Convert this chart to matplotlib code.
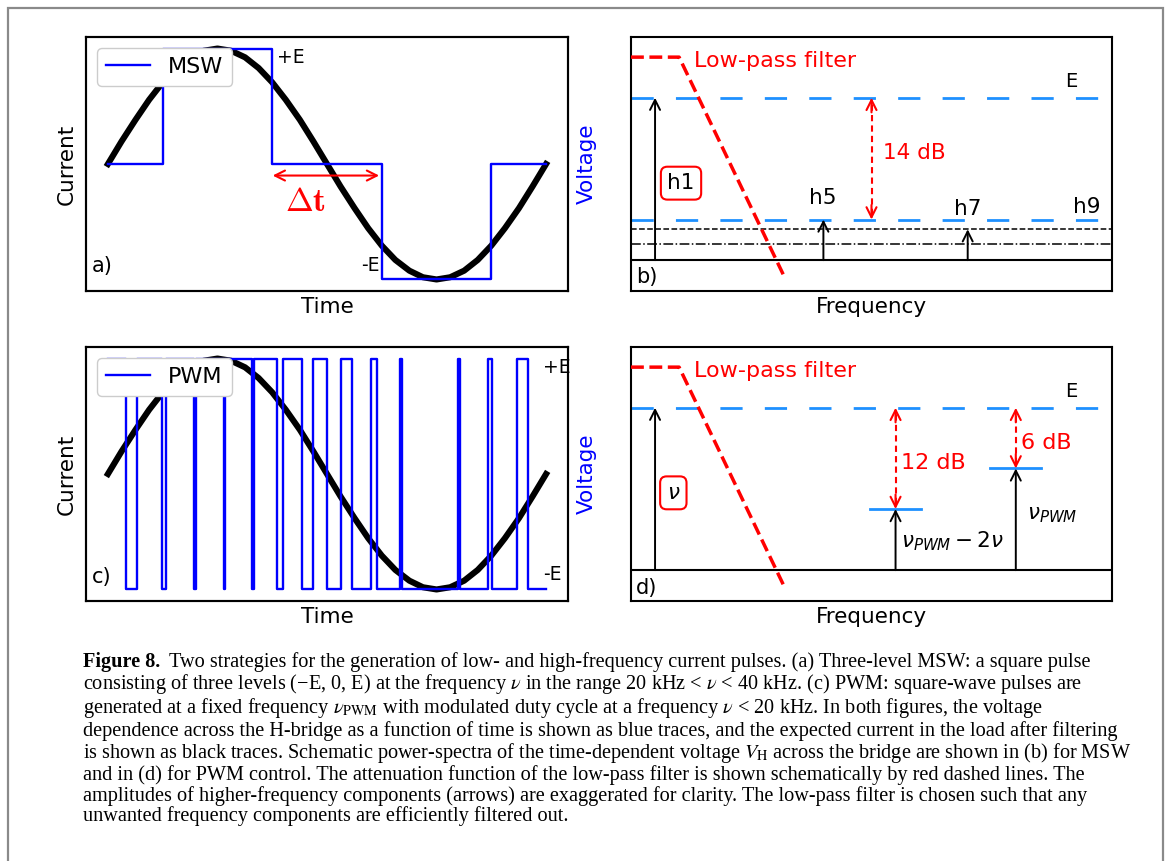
import matplotlib
matplotlib.use('Agg')
import matplotlib.pyplot as plt
from matplotlib.patches import Rectangle

plt.rcParams['font.family'] = ['DejaVu Sans']
plt.rcParams['axes.linewidth'] = 1.5

# ---------------- data ----------------
# load current (black traces), one period, normalised time
current_t = [0.000, 0.031, 0.063, 0.094, 0.125, 0.156, 0.188, 0.219, 0.250,
             0.281, 0.313, 0.344, 0.375, 0.406, 0.438, 0.469, 0.500,
             0.531, 0.563, 0.594, 0.625, 0.656, 0.688, 0.719, 0.750,
             0.781, 0.813, 0.844, 0.875, 0.906, 0.938, 0.969, 1.000]
current_i = [0.000, 0.195, 0.383, 0.556, 0.707, 0.831, 0.924, 0.981, 1.000,
             0.981, 0.924, 0.831, 0.707, 0.556, 0.383, 0.195, 0.000,
             -0.195, -0.383, -0.556, -0.707, -0.831, -0.924, -0.981, -1.000,
             -0.981, -0.924, -0.831, -0.707, -0.556, -0.383, -0.195, 0.000]

# three-level MSW voltage (panel a)
msw_t = [0.000, 0.125, 0.375, 0.625, 0.875, 1.000]
msw_v = [0, 1, 0, -1, 0, 0]

# PWM voltage (panel c): rising and falling edge times of the pulses
pwm_rise = [0.000, 0.067, 0.133, 0.200, 0.267, 0.333, 0.400, 0.467,
            0.533, 0.600, 0.667, 0.800, 0.867, 0.933]
pwm_fall = [0.042, 0.123, 0.197, 0.265, 0.329, 0.387, 0.444, 0.500,
            0.556, 0.614, 0.671, 0.804, 0.877, 0.959]

# low-pass filter (schematic attenuation)
filter_f = [0.00, 0.10, 0.32]
filter_gain = [1.25, 1.25, -0.11]

# MSW spectrum (panel b)
msw_harm_labels = ['h1', 'h5', 'h7', 'h9']
msw_harm_f = [0.05, 0.40, 0.70, 0.95]
msw_harm_amp = [1.00, 0.25, 0.19, 0.10]
msw_db = '14 dB'

# PWM spectrum (panel d)
pwm_comp_labels = [r'$\nu$', r'$\nu_{PWM}-2\nu$', r'$\nu_{PWM}$']
pwm_comp_f = [0.05, 0.55, 0.80]
pwm_comp_amp = [1.00, 0.376, 0.626]
pwm_db = ['12 dB', '6 dB']

caption_lines = [
    "Two strategies for the generation of low- and high-frequency current pulses. (a) Three-level MSW: a square pulse",
    "consisting of three levels (\u2212E, 0, E) at the frequency $\\nu$ in the range 20 kHz < $\\nu$ < 40 kHz. (c) PWM: square-wave pulses are",
    "generated at a fixed frequency $\\nu_{\\rm PWM}$ with modulated duty cycle at a frequency $\\nu$ < 20 kHz. In both figures, the voltage",
    "dependence across the H-bridge as a function of time is shown as blue traces, and the expected current in the load after filtering",
    "is shown as black traces. Schematic power-spectra of the time-dependent voltage $V_{\\rm H}$ across the bridge are shown in (b) for MSW",
    "and in (d) for PWM control. The attenuation function of the low-pass filter is shown schematically by red dashed lines. The",
    "amplitudes of higher-frequency components (arrows) are exaggerated for clarity. The low-pass filter is chosen such that any",
    "unwanted frequency components are efficiently filtered out.",
]

# ---------------- figure ----------------
W, H = 1167, 861
fig = plt.figure(figsize=(W / 100, H / 100), dpi=100)


def px_axes(x0, y0, x1, y1):
    return fig.add_axes([x0 / W, 1 - y1 / H, (x1 - x0) / W, (y1 - y0) / H])


ax_a = px_axes(86, 37, 568, 291)
ax_b = px_axes(631, 37, 1112, 291)
ax_c = px_axes(86, 347, 568, 601)
ax_d = px_axes(631, 347, 1112, 601)

fig.patches.append(Rectangle((8 / W, -0.05), (1163 - 8) / W, 1 - 8 / H + 0.05,
                             transform=fig.transFigure, fill=False,
                             edgecolor='#8a8a8a', lw=1.6))

FS = 15.5


def time_panel(ax, tv, vv, name):
    ax.plot(current_t, current_i, color='black', lw=4.4, zorder=2)
    ax.set_xlim(-0.05, 1.05)
    ax.set_ylim(-1.1, 1.1)
    ax.set_xticks([])
    ax.set_yticks([])
    ax.set_ylabel('Current', fontsize=FS, labelpad=7)
    ax.set_xlabel('Time', fontsize=FS, labelpad=4)
    ax2 = ax.twinx()
    ax2.step(tv, vv, where='post', color='blue', lw=1.7, label=name)
    ax2.set_xlim(-0.05, 1.05)
    ax2.set_ylim(-1.1, 1.1)
    ax2.set_yticks([])
    ax2.set_ylabel('Voltage', color='blue', fontsize=FS, labelpad=6)
    ax2.legend(loc='upper left', fontsize=16, framealpha=1)
    return ax2


# panel a
a2 = time_panel(ax_a, msw_t, msw_v, 'MSW')
ax_a.text(0.386, 0.872, '+E', fontsize=13.5, va='baseline')
ax_a.text(0.619, -0.93, '-E', fontsize=13.5, va='baseline', ha='right')
ax_a.text(0.0125, 0.076, 'a)', fontsize=15, transform=ax_a.transAxes, va='baseline')
ax_a.annotate('', xy=(0.376, -0.10), xytext=(0.619, -0.10),
              arrowprops=dict(arrowstyle='<->', color='red', lw=1.5,
                              shrinkA=0, shrinkB=0, mutation_scale=18))
ax_a.text(0.45, -0.41, r'$\mathbf{\Delta t}$', color='red', fontsize=24,
          ha='center', va='baseline', math_fontfamily='cm')

# panel c
pwm_edges = []
pwm_levels = []
for r, f in zip(pwm_rise, pwm_fall):
    pwm_edges += [r, f]
    pwm_levels += [1, -1]
pwm_edges.append(1.0)
pwm_levels.append(-1)
c2 = time_panel(ax_c, pwm_edges, pwm_levels, 'PWM')
ax_c.text(0.994, 0.877, '+E', fontsize=13.5, va='baseline')
ax_c.text(0.994, -0.918, '-E', fontsize=13.5, va='baseline')
ax_c.text(0.0125, 0.070, 'c)', fontsize=15, transform=ax_c.transAxes, va='baseline')


def up_arrow(ax, x, top):
    ax.annotate('', xy=(x, top), xytext=(x, 0),
                arrowprops=dict(arrowstyle='->', color='black', lw=1.4,
                                shrinkA=0, shrinkB=0, mutation_scale=18))


def db_arrow(ax, x, top, bot):
    ax.plot([x, x], [bot + 0.03, top - 0.03], color='red', lw=1.5, ls=(0, (3, 2)))
    for y0, y1 in ((top - 0.09, top), (bot + 0.09, bot)):
        ax.annotate('', xy=(x, y1), xytext=(x, y0),
                    arrowprops=dict(arrowstyle='->', color='red', lw=1.5,
                                    shrinkA=0, shrinkB=0, mutation_scale=18))


def spec_panel(ax, tag, tag_y):
    ax.set_xlim(0, 1)
    ax.set_ylim(-0.19, 1.374)
    ax.set_xticks([])
    ax.set_yticks([])
    ax.set_xlabel('Frequency', fontsize=FS, labelpad=4)
    ax.plot(filter_f, filter_gain, color='red', ls='--', lw=2.5, zorder=3)
    ax.text(0.13, 1.19, 'Low-pass filter', color='red', fontsize=16, va='baseline')
    ax.axhline(0, color='black', lw=1.5)
    ax.plot([0, 0.973], [1, 1], color='dodgerblue', lw=2, dashes=(8, 8))
    ax.text(0.903, 1.066, 'E', fontsize=14, va='baseline')
    ax.text(0.0104, tag_y, tag, fontsize=15, transform=ax.transAxes, va='baseline')


# panel b
spec_panel(ax_b, 'b)', 0.030)
ax_b.plot([0, 0.973], [msw_harm_amp[1]] * 2, color='dodgerblue', lw=2, dashes=(8, 8))
ax_b.axhline(msw_harm_amp[2], color='black', lw=1.1, ls='--')
ax_b.axhline(msw_harm_amp[3], color='black', lw=1.1, ls='-.')
for f, a in zip(msw_harm_f[:3], msw_harm_amp[:3]):
    up_arrow(ax_b, f, a)
db_arrow(ax_b, 0.50, msw_harm_amp[0], msw_harm_amp[1])
ax_b.text(0.523, 0.62, msw_db, color='red', fontsize=15.5, va='baseline')
ax_b.text(0.104, 0.474, msw_harm_labels[0], ha='center', va='center', fontsize=FS,
          bbox=dict(boxstyle='round,pad=0.3', fc='white', ec='red', lw=1.5))
ax_b.text(0.399, 0.345, msw_harm_labels[1], ha='center', va='baseline', fontsize=FS)
ax_b.text(0.700, 0.277, msw_harm_labels[2], ha='center', va='baseline', fontsize=FS)
ax_b.text(0.948, 0.290, msw_harm_labels[3], ha='center', va='baseline', fontsize=FS)

# panel d
spec_panel(ax_d, 'd)', 0.028)
for f, a in zip(pwm_comp_f, pwm_comp_amp):
    up_arrow(ax_d, f, a)
for f, a in zip(pwm_comp_f[1:], pwm_comp_amp[1:]):
    ax_d.plot([f - 0.053, f + 0.053], [a, a], color='dodgerblue', lw=2)
    db_arrow(ax_d, f, pwm_comp_amp[0], a)
ax_d.text(0.561, 0.622, pwm_db[0], color='red', fontsize=16, va='baseline')
ax_d.text(0.811, 0.746, pwm_db[1], color='red', fontsize=16, va='baseline')
ax_d.text(0.088, 0.476, pwm_comp_labels[0], ha='center', va='center', fontsize=FS,
          bbox=dict(boxstyle='round,pad=0.3', fc='white', ec='red', lw=1.5))
ax_d.text(0.561, 0.139, pwm_comp_labels[1], va='baseline', fontsize=FS)
ax_d.text(0.823, 0.314, pwm_comp_labels[2], va='baseline', fontsize=FS)

# caption
renderer = fig.canvas.get_renderer()
CFS = 14.6
x0 = 83 / W
base0 = 667
step = 20.8
t0 = fig.text(x0, 1 - base0 / H, 'Figure 8.', fontsize=CFS, fontweight='bold',
              family='Liberation Serif', va='baseline')
bb = t0.get_window_extent(renderer)
cap_texts = []
cap_texts.append(fig.text((bb.x1 + 9) / W, 1 - base0 / H, caption_lines[0], fontsize=CFS,
                          family='Liberation Serif', va='baseline', math_fontfamily='stix'))
for i, line in enumerate(caption_lines[1:], start=1):
    cap_texts.append(fig.text(x0, 1 - (base0 + i * step) / H, line, fontsize=CFS,
                              family='Liberation Serif', va='baseline',
                              math_fontfamily='stix'))

# nudge neighbouring caption lines apart only where their boxes actually overlap
for i in range(1, len(cap_texts)):
    upper = cap_texts[i - 1].get_window_extent(renderer)
    lower = cap_texts[i].get_window_extent(renderer)
    ov = lower.y1 - upper.y0
    if ov > 0:
        shift = (ov + 0.2) / H
        for t in cap_texts[i:]:
            xx, yy = t.get_position()
            t.set_position((xx, yy - shift))

fig.savefig('out.png', dpi=100)
